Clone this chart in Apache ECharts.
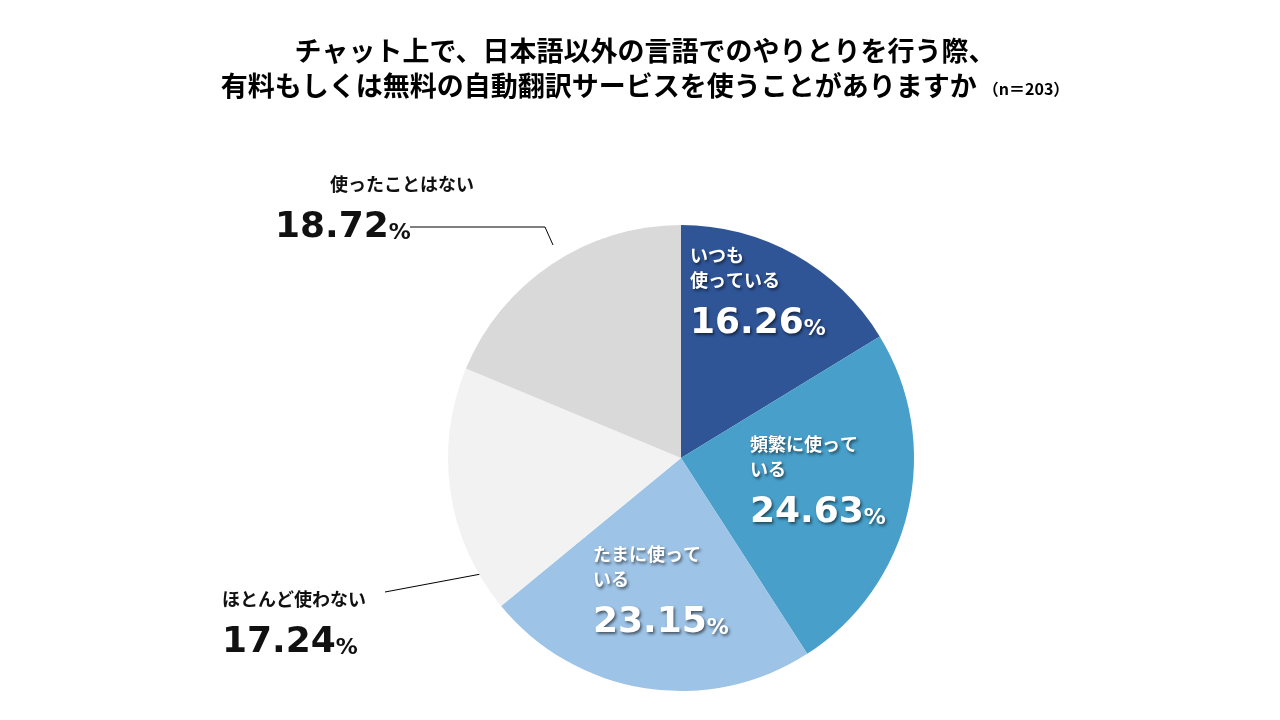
<!DOCTYPE html>
<html lang="ja">
<head>
    <meta charset="UTF-8">
    <title>自動翻訳サービスの利用</title>
    <script src="https://cdn.jsdelivr.net/npm/echarts@6.0.0/dist/echarts.min.js"></script>
    <style>
        html, body { margin: 0; padding: 0; background: #fff; }
    </style>
</head>
<body>
    <div id="chart" style="width: 1280px; height: 720px;"></div>
    <script>
        // 回答項目と割合（%）
        const categories = ['いつも使っている', '頻繁に使っている', 'たまに使っている', 'ほとんど使わない', '使ったことはない'];
        const labelNames = ['いつも\n使っている', '頻繁に使って\nいる', 'たまに使って\nいる', 'ほとんど使わない', '使ったことはない'];
        const values = [16.26, 24.63, 23.15, 17.24, 18.72];
        const colors = ['#2F5597', '#479FCA', '#9DC3E6', '#F2F2F2', '#D9D9D9'];

        // ラベルの左上位置（スライスごと）
        const labelPos = [[690, 243], [750, 432], [593, 542], [222, 587], [275, 172]];
        const linePoints = {
            3: [[497, 571], [385, 592]],
            4: [[553, 245], [545, 227], [410, 227]]
        };

        const myChart = echarts.init(document.getElementById('chart'));

        const jpFont = '"Noto Sans CJK JP", sans-serif';
        const numFont = '"DejaVu Sans", Verdana, sans-serif';

        function richStyle(inside) {
            const shadow = inside ? {
                textShadowColor: 'rgba(0,0,0,0.55)',
                textShadowBlur: 3,
                textShadowOffsetX: 1.5,
                textShadowOffsetY: 1.5
            } : {};
            const color = inside ? '#fff' : '#111';
            return {
                name: Object.assign({ fontFamily: jpFont, fontWeight: 'bold', fontSize: 18, lineHeight: 25, color: color }, shadow),
                name2: Object.assign({ fontFamily: jpFont, fontWeight: 'bold', fontSize: 18, lineHeight: 25, color: color, padding: [0, 0, 0, 55] }, shadow),
                num: Object.assign({ fontFamily: numFont, fontWeight: 'bold', fontSize: 36, lineHeight: 62, color: color }, shadow),
                pct: Object.assign({ fontFamily: numFont, fontWeight: 'bold', fontSize: 22, lineHeight: 22, color: color, padding: [11, 0, 0, 0] }, shadow)
            };
        }

        const pieData = categories.map((c, i) => {
            const inside = i < 3;
            const nameTag = i === 4 ? 'name2' : 'name';
            const nameText = labelNames[i].split('\n').map(s => '{' + nameTag + '|' + s + '}').join('\n');
            return {
                name: c,
                value: values[i],
                itemStyle: { color: colors[i] },
                label: {
                    show: true,
                    position: inside ? 'inside' : 'outside',
                    formatter: nameText + '\n{num|' + values[i].toFixed(2) + '}{pct|%}',
                    rich: richStyle(inside)
                },
                labelLine: {
                    show: !inside,
                    lineStyle: { color: '#000', width: 1 }
                }
            };
        });

        const option = {
            animation: false,
            title: {
                text: 'チャット上で、日本語以外の言語でのやりとりを行う際、\n有料もしくは無料の自動翻訳サービスを使うことがありますか {n|（n＝203）}',
                left: 640,
                top: 28,
                textAlign: 'center',
                textStyle: {
                    fontFamily: jpFont,
                    fontWeight: 'bold',
                    fontSize: 27,
                    lineHeight: 35,
                    color: '#000',
                    rich: {
                        n: { fontFamily: jpFont, fontWeight: 'bold', fontSize: 16, color: '#000', padding: [6, 0, 0, 0] }
                    }
                }
            },
            series: [{
                type: 'pie',
                center: [681, 458],
                radius: 233,
                startAngle: 90,
                clockwise: true,
                data: pieData,
                labelLayout: function (params) {
                    const i = params.dataIndex;
                    const out = {
                        x: labelPos[i][0],
                        y: labelPos[i][1],
                        align: 'left',
                        verticalAlign: 'top'
                    };
                    if (linePoints[i]) {
                        out.labelLinePoints = linePoints[i];
                    }
                    return out;
                }
            }]
        };

        myChart.setOption(option);
    </script>
</body>
</html>
